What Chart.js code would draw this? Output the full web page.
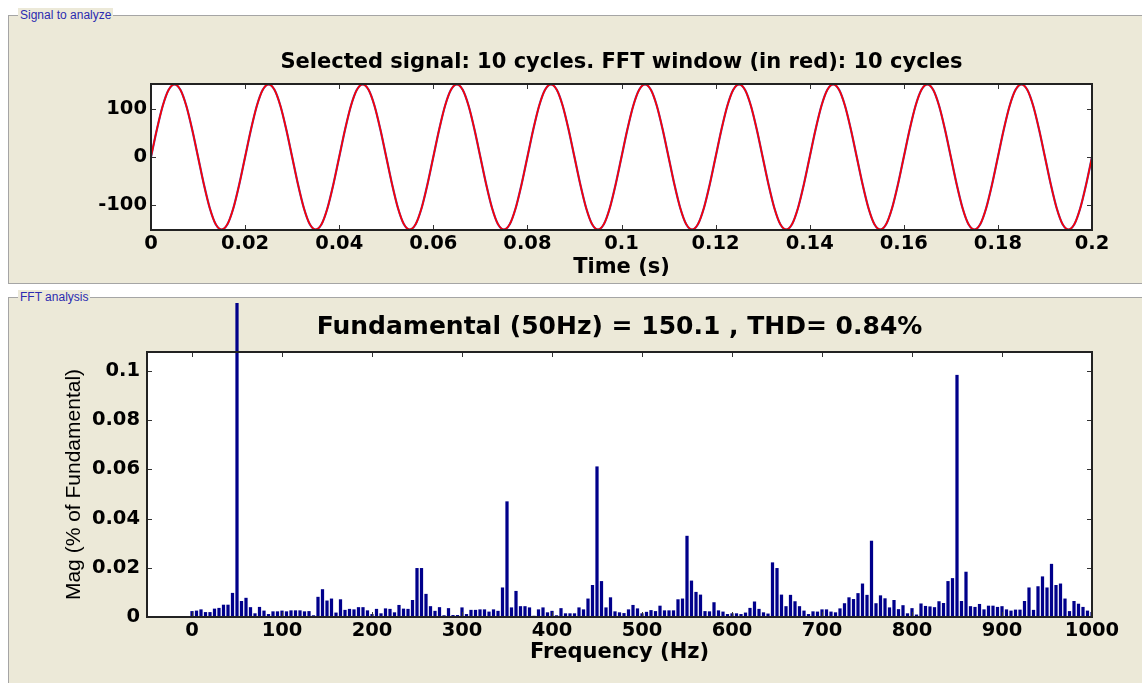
<!DOCTYPE html>
<html>
<head>
<meta charset="utf-8">
<title>FFT analysis</title>
<script src="https://cdn.jsdelivr.net/npm/chart.js@4.4.1/dist/chart.umd.min.js"></script>
<style>
  body { margin: 0; background: #fff; width: 1142px; height: 683px; overflow: hidden; position: relative; font-family: "Liberation Sans", Arial, sans-serif; }
  .panel { position: absolute; left: 8px; width: 1140px; background: #ece9d8; border: 1px solid #a5a5a5; border-right: none; }
  .panel span { position: absolute; left: 9px; top: -8px; padding: 0 2px; background: #ece9d8; color: #2b2bb0; font-size: 12px; line-height: 14px; }
  canvas { position: absolute; left: 0; }
</style>
</head>
<body>
<div class="panel" style="top:15px; height:267px;"><span>Signal to analyze</span></div>
<div class="panel" style="top:297px; height:400px;"><span>FFT analysis</span></div>
<canvas id="sig" width="1142" height="240" style="top:40px"></canvas>
<canvas id="fft" width="1142" height="386" style="top:297px"></canvas>
<script>
// selected signal, 16 samples per 50 Hz cycle
const timeS = [
  0, 0.00125, 0.0025, 0.00375, 0.005, 0.00625, 0.0075, 0.00875, 0.01, 0.01125, 0.0125, 0.01375, 0.015, 0.01625, 0.0175, 0.01875,
  0.02, 0.02125, 0.0225, 0.02375, 0.025, 0.02625, 0.0275, 0.02875, 0.03, 0.03125, 0.0325, 0.03375, 0.035, 0.03625, 0.0375, 0.03875,
  0.04, 0.04125, 0.0425, 0.04375, 0.045, 0.04625, 0.0475, 0.04875, 0.05, 0.05125, 0.0525, 0.05375, 0.055, 0.05625, 0.0575, 0.05875,
  0.06, 0.06125, 0.0625, 0.06375, 0.065, 0.06625, 0.0675, 0.06875, 0.07, 0.07125, 0.0725, 0.07375, 0.075, 0.07625, 0.0775, 0.07875,
  0.08, 0.08125, 0.0825, 0.08375, 0.085, 0.08625, 0.0875, 0.08875, 0.09, 0.09125, 0.0925, 0.09375, 0.095, 0.09625, 0.0975, 0.09875,
  0.1, 0.10125, 0.1025, 0.10375, 0.105, 0.10625, 0.1075, 0.10875, 0.11, 0.11125, 0.1125, 0.11375, 0.115, 0.11625, 0.1175, 0.11875,
  0.12, 0.12125, 0.1225, 0.12375, 0.125, 0.12625, 0.1275, 0.12875, 0.13, 0.13125, 0.1325, 0.13375, 0.135, 0.13625, 0.1375, 0.13875,
  0.14, 0.14125, 0.1425, 0.14375, 0.145, 0.14625, 0.1475, 0.14875, 0.15, 0.15125, 0.1525, 0.15375, 0.155, 0.15625, 0.1575, 0.15875,
  0.16, 0.16125, 0.1625, 0.16375, 0.165, 0.16625, 0.1675, 0.16875, 0.17, 0.17125, 0.1725, 0.17375, 0.175, 0.17625, 0.1775, 0.17875,
  0.18, 0.18125, 0.1825, 0.18375, 0.185, 0.18625, 0.1875, 0.18875, 0.19, 0.19125, 0.1925, 0.19375, 0.195, 0.19625, 0.1975, 0.19875,
  0.2
];
const signalA = [
  0, 57, 106, 139, 150, 139, 106, 57, 0, -57, -106, -139, -150, -139, -106, -57,
  0, 57, 106, 139, 150, 139, 106, 57, 0, -57, -106, -139, -150, -139, -106, -57,
  0, 57, 106, 139, 150, 139, 106, 57, 0, -57, -106, -139, -150, -139, -106, -57,
  0, 57, 106, 139, 150, 139, 106, 57, 0, -57, -106, -139, -150, -139, -106, -57,
  0, 57, 106, 139, 150, 139, 106, 57, 0, -57, -106, -139, -150, -139, -106, -57,
  0, 57, 106, 139, 150, 139, 106, 57, 0, -57, -106, -139, -150, -139, -106, -57,
  0, 57, 106, 139, 150, 139, 106, 57, 0, -57, -106, -139, -150, -139, -106, -57,
  0, 57, 106, 139, 150, 139, 106, 57, 0, -57, -106, -139, -150, -139, -106, -57,
  0, 57, 106, 139, 150, 139, 106, 57, 0, -57, -106, -139, -150, -139, -106, -57,
  0, 57, 106, 139, 150, 139, 106, 57, 0, -57, -106, -139, -150, -139, -106, -57,
  0
];
const timeTicks = [0, 0.02, 0.04, 0.06, 0.08, 0.1, 0.12, 0.14, 0.16, 0.18, 0.2];
const signalTicks = [-100, 0, 100];

// FFT bins (Hz) and magnitude (% of fundamental)
const freqHz = [
  0, 5, 10, 15, 20, 25, 30, 35, 40, 45,
  50, 55, 60, 65, 70, 75, 80, 85, 90, 95,
  100, 105, 110, 115, 120, 125, 130, 135, 140, 145,
  150, 155, 160, 165, 170, 175, 180, 185, 190, 195,
  200, 205, 210, 215, 220, 225, 230, 235, 240, 245,
  250, 255, 260, 265, 270, 275, 280, 285, 290, 295,
  300, 305, 310, 315, 320, 325, 330, 335, 340, 345,
  350, 355, 360, 365, 370, 375, 380, 385, 390, 395,
  400, 405, 410, 415, 420, 425, 430, 435, 440, 445,
  450, 455, 460, 465, 470, 475, 480, 485, 490, 495,
  500, 505, 510, 515, 520, 525, 530, 535, 540, 545,
  550, 555, 560, 565, 570, 575, 580, 585, 590, 595,
  600, 605, 610, 615, 620, 625, 630, 635, 640, 645,
  650, 655, 660, 665, 670, 675, 680, 685, 690, 695,
  700, 705, 710, 715, 720, 725, 730, 735, 740, 745,
  750, 755, 760, 765, 770, 775, 780, 785, 790, 795,
  800, 805, 810, 815, 820, 825, 830, 835, 840, 845,
  850, 855, 860, 865, 870, 875, 880, 885, 890, 895,
  900, 905, 910, 915, 920, 925, 930, 935, 940, 945,
  950, 955, 960, 965, 970, 975, 980, 985, 990, 995,
  1000
];
const magPct = [
  0.0024, 0.0026, 0.0031, 0.0020, 0.0020, 0.0034, 0.0037, 0.0050, 0.0050, 0.0098,
  100,    0.0065, 0.0078, 0.0040, 0.0015, 0.0041, 0.0026, 0.0012, 0.0023, 0.0023,
  0.0026, 0.0023, 0.0027, 0.0027, 0.0027, 0.0023, 0.0024, 0.0007, 0.0082, 0.0113,
  0.0067, 0.0075, 0.0018, 0.0072, 0.0029, 0.0033, 0.0031, 0.0040, 0.0040, 0.0027,
  0.0012, 0.0033, 0.0015, 0.0035, 0.0033, 0.0019, 0.0049, 0.0034, 0.0033, 0.0069,
  0.0199, 0.0199, 0.0094, 0.0044, 0.0025, 0.0040, 0.0007, 0.0036, 0.0008, 0.0008,
  0.0039, 0.0012, 0.0029, 0.0029, 0.0031, 0.0031, 0.0022, 0.0031, 0.0025, 0.0120,
  0.0470, 0.0039, 0.0106, 0.0044, 0.0044, 0.0039, 0.0005, 0.0031, 0.0039, 0.0019,
  0.0025, 0.0007, 0.0036, 0.0015, 0.0015, 0.0015, 0.0039, 0.0031, 0.0075, 0.0130,
  0.0612, 0.0146, 0.0039, 0.0080, 0.0023, 0.0019, 0.0016, 0.0031, 0.0049, 0.0035,
  0.0015, 0.0021, 0.0028, 0.0024, 0.0046, 0.0027, 0.0027, 0.0027, 0.0072, 0.0075,
  0.0330, 0.0148, 0.0102, 0.0091, 0.0024, 0.0023, 0.0060, 0.0027, 0.0022, 0.0012,
  0.0015, 0.0015, 0.0012, 0.0018, 0.0037, 0.0063, 0.0033, 0.0019, 0.0014, 0.0222,
  0.0199, 0.0091, 0.0044, 0.0090, 0.0064, 0.0044, 0.0026, 0.0012, 0.0023, 0.0022,
  0.0031, 0.0031, 0.0022, 0.0019, 0.0035, 0.0056, 0.0080, 0.0073, 0.0097, 0.0136,
  0.0090, 0.0310, 0.0056, 0.0088, 0.0076, 0.0039, 0.0069, 0.0032, 0.0048, 0.0015,
  0.0036, 0.0010, 0.0055, 0.0045, 0.0043, 0.0040, 0.0064, 0.0057, 0.0146, 0.0158,
  0.0984, 0.0065, 0.0184, 0.0044, 0.0041, 0.0053, 0.0031, 0.0046, 0.0046, 0.0041,
  0.0044, 0.0031, 0.0026, 0.0030, 0.0030, 0.0065, 0.0120, 0.0029, 0.0125, 0.0165,
  0.0120, 0.0216, 0.0130, 0.0136, 0.0075, 0.0024, 0.0065, 0.0054, 0.0041, 0.0026,
  0.0020
];
const freqTicks = [0, 100, 200, 300, 400, 500, 600, 700, 800, 900, 1000];
const magTicks = [0, 0.02, 0.04, 0.06, 0.08, 0.1];

const BOLD = '"DejaVu Sans", "Liberation Sans", sans-serif';
const PLAIN = '"Liberation Sans", Arial, sans-serif';
const tickFont = { family: BOLD, size: 19.5, weight: 'bold', lineHeight: 1.2 };
const axisFont = { family: BOLD, size: 21, weight: 'bold', lineHeight: 1.2 };

// white plot area, black box, inward ticks on all four sides (matlab style)
const matlabBox = {
  id: 'matlabBox',
  beforeDatasetsDraw(chart) {
    const { ctx, chartArea: a } = chart;
    ctx.save();
    ctx.fillStyle = '#fff';
    ctx.fillRect(a.left, a.top, a.width, a.height);
    ctx.restore();
  },
  afterDatasetsDraw(chart) {
    const { ctx, chartArea: a, scales: { x, y } } = chart;
    const len = 5;
    ctx.save();
    ctx.strokeStyle = '#333';
    ctx.lineWidth = 1;
    ctx.beginPath();
    x.ticks.forEach(t => {
      const px = Math.round(x.getPixelForValue(t.value)) + 0.5;
      ctx.moveTo(px, a.top); ctx.lineTo(px, a.top + len);
      ctx.moveTo(px, a.bottom); ctx.lineTo(px, a.bottom - len);
    });
    y.ticks.forEach(t => {
      const py = Math.round(y.getPixelForValue(t.value)) + 0.5;
      ctx.moveTo(a.left, py); ctx.lineTo(a.left + len, py);
      ctx.moveTo(a.right, py); ctx.lineTo(a.right - len, py);
    });
    ctx.stroke();
    ctx.strokeStyle = '#222';
    ctx.lineWidth = 2;
    ctx.strokeRect(a.left, a.top, a.width, a.height);
    ctx.restore();
  }
};

const fixedTicks = list => scale => { scale.ticks = list.map(v => ({ value: v })); };

new Chart(document.getElementById('sig'), {
  type: 'line',
  data: {
    labels: timeS,
    datasets: [
      // higher order is drawn first, so the red window sits on top of the signal
      { label: 'signal', data: signalA, order: 1, borderColor: '#5a3fa8', borderWidth: 2.2, pointRadius: 0, cubicInterpolationMode: 'monotone' },
      { label: 'FFT window', data: signalA, order: 0, borderColor: '#ff0000', borderWidth: 1.6, pointRadius: 0, cubicInterpolationMode: 'monotone' }
    ]
  },
  options: {
    responsive: false, animation: false, devicePixelRatio: 1,
    layout: { padding: { left: 0, right: 50, top: 0, bottom: 0 } },
    plugins: {
      legend: { display: false }, tooltip: { enabled: false },
      title: {
        display: true, fullSize: false, text: 'Selected signal: 10 cycles. FFT window (in red): 10 cycles',
        color: '#000', font: { family: BOLD, size: 21, weight: 'bold', lineHeight: 1.2 },
        padding: { top: 10, bottom: 8.8 }
      }
    },
    scales: {
      x: {
        type: 'linear', min: 0, max: 0.2,
        afterBuildTicks: fixedTicks(timeTicks),
        afterFit: s => { s.height = 50; },
        grid: { display: false, drawTicks: false }, border: { display: false },
        ticks: { color: '#000', padding: 2.3, autoSkip: false, maxRotation: 0, font: tickFont, callback: v => String(v) },
        title: { display: true, text: 'Time (s)', color: '#000', padding: { top: 0, bottom: 0 }, font: axisFont }
      },
      y: {
        min: -151, max: 151,
        afterBuildTicks: fixedTicks(signalTicks),
        afterFit: s => { s.width = 151; },
        grid: { display: false, drawTicks: false }, border: { display: false },
        ticks: { color: '#000', padding: 4, font: tickFont, callback: v => String(v) }
      }
    }
  },
  plugins: [matlabBox]
});

new Chart(document.getElementById('fft'), {
  type: 'bar',
  data: {
    labels: freqHz,
    datasets: [{
      label: 'Mag', data: magPct, backgroundColor: '#00008b', borderWidth: 0,
      barPercentage: 0.72, categoryPercentage: 1,
      clip: { left: 0, top: 49, right: 0, bottom: 0 }
    }]
  },
  options: {
    responsive: false, animation: false, devicePixelRatio: 1,
    layout: { padding: { left: 0, right: 50, top: 0, bottom: 0 } },
    plugins: {
      legend: { display: false }, tooltip: { enabled: false },
      title: {
        display: true, fullSize: false, text: 'Fundamental (50Hz) = 150.1 , THD= 0.84%',
        color: '#000', font: { family: BOLD, size: 25, weight: 'bold', lineHeight: 1.2 },
        padding: { top: 15, bottom: 10 }
      }
    },
    scales: {
      x: {
        type: 'linear', min: -50, max: 1000, offset: false,
        afterBuildTicks: fixedTicks(freqTicks),
        afterFit: s => { s.height = 66; },
        grid: { display: false, drawTicks: false }, border: { display: false },
        ticks: { color: '#000', padding: 2.3, autoSkip: false, maxRotation: 0, font: tickFont, callback: v => String(v) },
        title: { display: true, text: 'Frequency (Hz)', color: '#000', padding: { top: 0, bottom: 18 }, font: axisFont }
      },
      y: {
        min: 0, max: 0.1077,
        afterBuildTicks: fixedTicks(magTicks),
        afterFit: s => { s.width = 147; },
        grid: { display: false, drawTicks: false }, border: { display: false },
        ticks: { color: '#000', padding: 7, font: tickFont, callback: v => String(v) },
        title: { display: true, text: 'Mag (% of Fundamental)', color: '#000', padding: { top: 62, bottom: 0 }, font: { family: PLAIN, size: 21, lineHeight: 1.2 } }
      }
    }
  },
  plugins: [matlabBox]
});
</script>
</body>
</html>
